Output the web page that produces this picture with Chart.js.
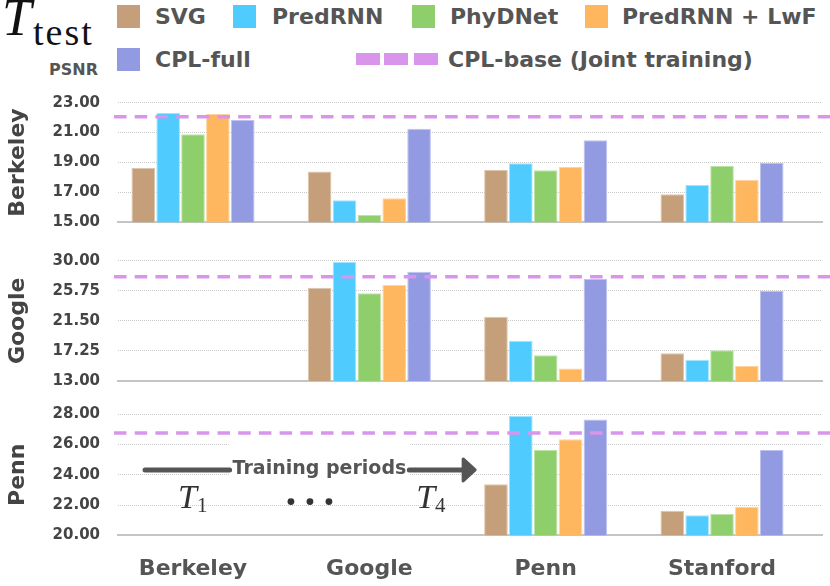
<!DOCTYPE html>
<html>
<head>
<meta charset="utf-8">
<script src="https://cdn.jsdelivr.net/npm/chart.js@4.4.0/dist/chart.umd.min.js"></script>
<style>
  body { margin: 0; background: #fff; }
  #wrap { position: relative; width: 830px; height: 586px; overflow: hidden; font-family: 'DejaVu Sans', sans-serif; }
  #wrap canvas { position: absolute; left: 0; }
  .sw { position: absolute; width: 23px; height: 23px; }
  .lt { position: absolute; font-weight: bold; font-size: 22px; line-height: 22px; color: #555; white-space: nowrap; }
  .dash { position: absolute; width: 24px; height: 12px; }
  #tT { position: absolute; left: 2px; top: -9px; font: italic 53px/53px 'Liberation Serif', serif; color: #111; }
  #tSub { position: absolute; left: 33px; top: 13px; font: 38px/38px 'Liberation Serif', serif; letter-spacing: 2px; color: #111; }
  #psnr { position: absolute; left: 49px; top: 62px; font-weight: bold; font-size: 16px; line-height: 16px; color: #555; }
</style>
</head>
<body>
<div id="wrap">
  <div id="tT">T</div><div id="tSub">test</div>
  <div id="psnr">PSNR</div>
  <canvas id="c1" width="830" height="160" style="top:80px"></canvas>
  <canvas id="c2" width="830" height="160" style="top:240px"></canvas>
  <canvas id="c3" width="830" height="191" style="top:395px"></canvas>
</div>
<script>
// categories = training set the model is evaluated after; panels = test set
const categories = ['Berkeley', 'Google', 'Penn', 'Stanford'];
const methods = ['SVG', 'PredRNN', 'PhyDNet', 'PredRNN + LwF', 'CPL-full'];
const panels = ['Berkeley', 'Google', 'Penn'];
const baseName = 'CPL-base (Joint training)';

// T_test = Berkeley
const berkeleySVG     = [18.63, 18.39, 18.50, 16.87];
const berkeleyPredRNN = [22.31, 16.47, 18.95, 17.49];
const berkeleyPhyDNet = [20.89, 15.49, 18.48, 18.77];
const berkeleyLwF     = [22.24, 16.61, 18.70, 17.83];
const berkeleyCPL     = [21.84, 21.26, 20.48, 18.97];

// T_test = Google
const googleSVG     = [null, 26.19, 22.09, 16.91];
const googlePredRNN = [null, 29.81, 18.70, 15.97];
const googlePhyDNet = [null, 25.39, 16.63, 17.34];
const googleLwF     = [null, 26.56, 14.75, 15.12];
const googleCPL     = [null, 28.45, 27.41, 25.72];

// T_test = Penn
const pennSVG     = [null, null, 23.37, 21.63];
const pennPredRNN = [null, null, 27.89, 21.33];
const pennPhyDNet = [null, null, 25.64, 21.41];
const pennLwF     = [null, null, 26.35, 21.88];
const pennCPL     = [null, null, 27.65, 25.64];

const cplBase = [22.06, 27.74, 26.77];

const yMin  = [15, 13, 20];
const yMax  = [23, 30, 28];
const yStep = [2, 4.25, 2];

const colors  = ['#c49f79', '#50cbfd', '#8ecf6b', '#feb75e', '#929be1'];
const borders = ['#dcc5ad', '#a4e3fd', '#bde3a8', '#fed3a0', '#bec2ef'];
const baseColor = '#d995ec';

const panelData = [
  [berkeleySVG, berkeleyPredRNN, berkeleyPhyDNet, berkeleyLwF, berkeleyCPL],
  [googleSVG, googlePredRNN, googlePhyDNet, googleLwF, googleCPL],
  [pennSVG, pennPredRNN, pennPhyDNet, pennLwF, pennCPL]
];

Chart.defaults.font.family = "'DejaVu Sans', sans-serif";
Chart.defaults.color = '#444';

// legend (html)
const wrap = document.getElementById('wrap');
const legendSpots = [[117, 5, 155], [233, 5, 272], [412, 5, 450], [585, 5, 622], [117, 48, 155]];
methods.forEach((m, i) => {
  const [sx, sy, tx] = legendSpots[i];
  const sw = document.createElement('div');
  sw.className = 'sw';
  sw.style.cssText = `left:${sx}px;top:${sy}px;background:${colors[i]}`;
  wrap.appendChild(sw);
  const t = document.createElement('div');
  t.className = 'lt';
  t.style.cssText = `left:${tx}px;top:${sy + 1}px`;
  t.textContent = m;
  wrap.appendChild(t);
});
[356, 384, 414].forEach(x => {
  const d = document.createElement('div');
  d.className = 'dash';
  d.style.cssText = `left:${x}px;top:53px;background:${baseColor}`;
  wrap.appendChild(d);
});
const bt = document.createElement('div');
bt.className = 'lt';
bt.style.cssText = 'left:448px;top:49px';
bt.textContent = baseName;
wrap.appendChild(bt);

// dashed joint-training reference
const baseLine = {
  id: 'baseLine',
  afterDatasetsDraw(chart, args, opts) {
    const y = chart.scales.y.getPixelForValue(opts.value);
    const ctx = chart.ctx;
    ctx.save();
    ctx.strokeStyle = baseColor;
    ctx.lineWidth = 3.5;
    ctx.setLineDash([12.5, 8.2]);
    ctx.beginPath();
    ctx.moveTo(chart.chartArea.left - 4, y);
    ctx.lineTo(chart.width, y);
    ctx.stroke();
    ctx.restore();
  }
};

// "Training periods" arrow + T_1 ... T_4
const arrowNote = { text: 'Training periods', y: 24.32, from: -0.272, textAt: 0.717, to: 1.6 };
const periodMarks = [{ sub: '1', x: 0.0, y: 22.55 }, { sub: '4', x: 1.35, y: 22.55 }];
const dotsAt = { x: 0.663, y: 22.23 };

const periodsNote = {
  id: 'periodsNote',
  afterDatasetsDraw(chart) {
    const xs = chart.scales.x, ys = chart.scales.y, ctx = chart.ctx;
    ctx.save();
    ctx.font = "bold 19px 'DejaVu Sans'";
    const tw = ctx.measureText(arrowNote.text).width;
    const cx = xs.getPixelForValue(arrowNote.textAt);
    const ay = ys.getPixelForValue(arrowNote.y);
    const x0 = xs.getPixelForValue(arrowNote.from);
    const tip = xs.getPixelForValue(arrowNote.to);
    ctx.fillStyle = '#fff';
    ctx.fillRect(cx - tw / 2 - 4, ay - 27, tw + 8, 40);
    ctx.strokeStyle = '#555';
    ctx.fillStyle = '#555';
    ctx.lineWidth = 5;
    ctx.lineCap = 'round';
    ctx.beginPath();
    ctx.moveTo(x0, ay); ctx.lineTo(cx - tw / 2 - 3, ay);
    ctx.moveTo(cx + tw / 2 + 3, ay); ctx.lineTo(tip - 8, ay);
    ctx.stroke();
    ctx.lineJoin = 'round';
    ctx.lineWidth = 3;
    ctx.beginPath();
    ctx.moveTo(tip - 12, ay - 11); ctx.lineTo(tip, ay); ctx.lineTo(tip - 12, ay + 11); ctx.closePath();
    ctx.fill(); ctx.stroke();
    ctx.textAlign = 'center';
    ctx.textBaseline = 'middle';
    ctx.fillText(arrowNote.text, cx, ay - 1);

    ctx.fillStyle = '#333';
    periodMarks.forEach(p => {
      const px = xs.getPixelForValue(p.x), py = ys.getPixelForValue(p.y);
      ctx.textAlign = 'right';
      ctx.textBaseline = 'alphabetic';
      ctx.font = "italic 34px 'Liberation Serif'";
      ctx.fillText('T', px + 4, py + 11);
      ctx.textAlign = 'left';
      ctx.font = "21px 'Liberation Serif'";
      ctx.fillText(p.sub, px + 4, py + 15);
    });
    const dx = xs.getPixelForValue(dotsAt.x), dy = ys.getPixelForValue(dotsAt.y);
    [-19, 0, 19].forEach(o => {
      ctx.beginPath();
      ctx.arc(dx + o, dy, 3.4, 0, Math.PI * 2);
      ctx.fill();
    });
    ctx.restore();
  }
};

// area = wanted plot top / bottom inside the canvas
function makePanel(i, id, area, xHeight, showX) {
  const canvas = document.getElementById(id);
  const datasets = methods.map((m, k) => ({
    label: m,
    data: panelData[i][k].map((v, j) => ({ x: j, y: v })).filter(p => p.y !== null),
    backgroundColor: colors[k],
    borderColor: borders[k],
    borderWidth: 1,
    categoryPercentage: 0.705,
    barPercentage: 0.95
  }));
  const plugins = [baseLine];
  if (i === 2) plugins.push(periodsNote);
  const pad = { top: area[0], bottom: Math.max(0, canvas.height - area[1] - xHeight), left: 0, right: 8 };
  const chart = new Chart(canvas, {
    type: 'bar',
    data: { datasets },
    plugins,
    options: {
      responsive: false,
      animation: false,
      layout: { padding: pad },
      plugins: {
        legend: { display: false },
        tooltip: { enabled: false },
        baseLine: { value: cplBase[i] }
      },
      scales: {
        x: {
          type: 'linear',
          min: -0.4254,
          max: 3.567,
          offset: false,
          grid: { display: false },
          border: { display: true, color: '#c4c4c4', width: 2 },
          ticks: {
            display: showX,
            stepSize: 1,
            includeBounds: false,
            autoSkip: false,
            maxRotation: 0,
            padding: 13,
            color: '#555',
            font: { size: 22, weight: 'bold' },
            callback: v => categories[v]
          },
          afterFit: s => { s.height = xHeight; }
        },
        y: {
          min: yMin[i],
          max: yMax[i],
          beginAtZero: false,
          afterFit: s => { s.width = 118; },
          ticks: {
            stepSize: yStep[i],
            padding: 3,
            color: '#444',
            font: { size: 15, weight: 'bold' },
            callback: v => v.toFixed(2)
          },
          grid: {
            drawTicks: true,
            tickLength: 15,
            tickColor: 'rgba(0,0,0,0)',
            color: c => (c.tick && c.tick.value === yMin[i]) ? 'rgba(0,0,0,0)' : '#c9c9c9',
            lineWidth: 1
          },
          border: { display: false, dash: [1, 1] },
          title: {
            display: true,
            text: panels[i],
            color: '#444',
            font: { size: 22, weight: 'bold' },
            padding: { top: 5, bottom: 0 }
          }
        }
      }
    }
  });
  // nudge padding until the plot box sits where the reference has it
  for (let k = 0; k < 3; k++) {
    const ca = chart.chartArea;
    pad.top = Math.max(0, pad.top + area[0] - ca.top);
    pad.bottom = Math.max(0, pad.bottom + ca.bottom - area[1]);
    chart.update('none');
  }
}

makePanel(0, 'c1', [22.7, 142.3], 0, false);
makePanel(1, 'c2', [20.7, 141], 0, false);
makePanel(2, 'c3', [19.3, 140.3], 50.7, true);
</script>
</body>
</html>
